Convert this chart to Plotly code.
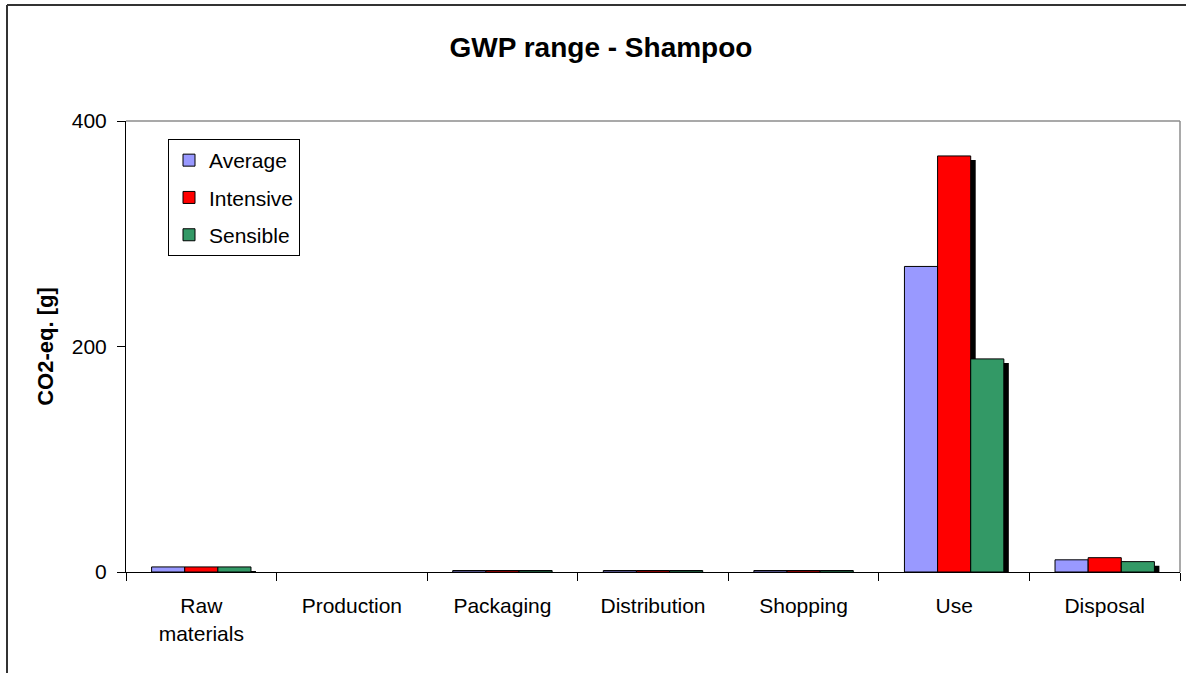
import plotly.graph_objects as go

# Life-cycle stages and CO2-equivalent emissions per scenario (g)
stages = ["Raw<br>materials", "Production", "Packaging", "Distribution",
          "Shopping", "Use", "Disposal"]
average = [4.5, 0.0, 1.3, 1.3, 1.3, 271, 10.8]
intensive = [4.5, 0.0, 1.3, 1.3, 1.3, 369, 12.7]
sensible = [4.5, 0.0, 1.3, 1.3, 1.3, 189, 9.2]

series = [("Average", average, "#9999FF"),
          ("Intensive", intensive, "#FF0000"),
          ("Sensible", sensible, "#339966")]

y_max = 400
y_ticks = [0, 200, 400]

# Page geometry (pixels)
W, H = 1186, 673
ML, MT, MB = 126, 121, 101
PLOT_W, PLOT_H = 1054, 451
SH_DX, SH_DY = 5, 4          # drop-shadow offset
MR = W - ML - PLOT_W - SH_DX
SPAN_W = PLOT_W + SH_DX

FONT = "Liberation Sans, Arial, sans-serif"


def outline(vals, w):
    # empty bars get no outline
    return [0 if v == 0 else w for v in vals]


fig = go.Figure()

# Drop shadows: same bars on a twin subplot nudged right and down
for name, vals, _ in series:
    fig.add_trace(go.Bar(
        x=stages, y=vals, name=name, showlegend=False, hoverinfo="skip",
        marker=dict(color="black", line=dict(width=0)),
        xaxis="x", yaxis="y",
    ))

# Main bars
for i, (name, vals, color) in enumerate(series):
    fig.add_trace(go.Bar(
        x=stages, y=vals, name=name, legendgroup=f"g{i}",
        marker=dict(color=color,
                    line=dict(color="black", width=outline(vals, 1))),
        xaxis="x2", yaxis="y2",
    ))

shadow_r0 = SH_DY * y_max / PLOT_H


def px_x(p):
    return (p - ML) / SPAN_W


def px_y(p):
    return (H - MB - p) / PLOT_H


fig.update_layout(
    width=W, height=H,
    margin=dict(l=ML, r=MR, t=MT, b=MB, pad=0),
    paper_bgcolor="white",
    plot_bgcolor="rgba(0,0,0,0)",
    barmode="group", bargap=0.34, bargroupgap=0,
    font=dict(family=FONT, size=21, color="black"),
    title=dict(text="<b>GWP range - Shampoo</b>", x=601 / W, xref="container",
               xanchor="center", y=1 - 47 / H, yref="container",
               yanchor="middle", font=dict(size=28, family=FONT)),
    xaxis=dict(domain=[SH_DX / SPAN_W, 1], anchor="y", visible=False,
               fixedrange=True),
    yaxis=dict(domain=[0, (PLOT_H - SH_DY) / PLOT_H], anchor="x",
               range=[shadow_r0, y_max], visible=False, fixedrange=True),
    xaxis2=dict(domain=[0, PLOT_W / SPAN_W], anchor="y2",
                showline=True, linecolor="black", linewidth=1,
                ticks="outside", tickson="boundaries", ticklen=8,
                tickcolor="black", tickwidth=1, showgrid=False,
                tickfont=dict(size=21), ticklabelstandoff=15,
                fixedrange=True),
    yaxis2=dict(domain=[0, 1], anchor="x2", range=[0, y_max],
                tickvals=y_ticks, showline=True, linecolor="black",
                linewidth=1, ticks="outside", ticklen=8, tickcolor="black",
                showgrid=False, zeroline=False, tickfont=dict(size=21),
                ticklabelstandoff=6,
                title=dict(text="<b>CO2-eq. [g]</b>", standoff=12,
                           font=dict(size=22)),
                fixedrange=True),
    legend=dict(x=(168 - ML) / SPAN_W, y=px_y(139),
                xanchor="left", yanchor="top",
                bgcolor="white", bordercolor="black", borderwidth=1,
                font=dict(size=21), traceorder="grouped", tracegroupgap=7),
    showlegend=True,
)

# Plot-area frame (grey top/right) and the outer chart border
fig.add_shape(type="line", xref="x2 domain", yref="y2 domain",
              x0=0, x1=1, y0=1, y1=1, line=dict(color="#8c8c8c", width=1.5))
fig.add_shape(type="line", xref="x2 domain", yref="y2 domain",
              x0=1, x1=1, y0=0, y1=1, line=dict(color="#8c8c8c", width=1.5))
fig.add_shape(type="line", xref="paper", yref="paper",
              x0=px_x(7), x1=px_x(7), y0=px_y(5), y1=px_y(H + 10),
              line=dict(color="#333333", width=2))
fig.add_shape(type="line", xref="paper", yref="paper",
              x0=px_x(7), x1=px_x(W + 10), y0=px_y(5), y1=px_y(5),
              line=dict(color="#333333", width=2))

fig.write_html("out.html")
